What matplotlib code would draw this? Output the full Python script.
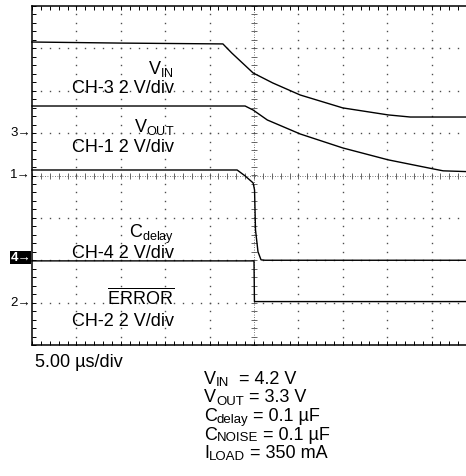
import matplotlib
matplotlib.use('Agg')
import matplotlib.pyplot as plt
import numpy as np
from matplotlib.ticker import MultipleLocator

plt.rcParams['font.family'] = ['Liberation Sans', 'DejaVu Sans']
plt.rcParams['mathtext.fontset'] = 'custom'
plt.rcParams['mathtext.rm'] = 'Liberation Sans'
plt.rcParams['mathtext.it'] = 'Liberation Sans:italic'

# scope settings
TIME_PER_DIV = 5.0   # µs/div
VOLT_PER_DIV = 2.0   # V/div

# traces: time (µs), voltage (V)
vin_t = [0, 9.9, 21.5, 22.5, 24.9, 27.1, 30.2, 35.0, 40.1, 42.6, 45.0, 50.0]
vin_v = [4.30, 4.25, 4.21, 3.78, 2.84, 2.37, 1.80, 1.19, 0.86, 0.76, 0.76, 0.76]

vout_t = [0, 24.0, 24.9, 26.5, 30.2, 35.0, 40.1, 45.2, 46.3, 50.0]
vout_v = [3.28, 3.28, 3.09, 2.62, 1.96, 1.30, 0.74, 0.31, 0.22, 0.17]

cdelay_t = [0, 23.1, 24.0, 24.9, 25.06, 25.17, 25.45, 25.79, 26.24, 50.0]
cdelay_v = [4.26, 4.26, 3.98, 3.65, 3.32, 1.43, 0.40, 0.02, 0.0, 0.0]

error_t = [0, 25.0, 25.05, 50.0]
error_v = [1.97, 1.97, 0.05, 0.05]

# channel ground-reference markers (divisions from screen centre)
ch_names = ['3', '1', '4', '2']
ch_offsets = [1.0, 0.0, -2.0, -3.0]

# test conditions: (symbol, subscript, rest)
cond_sym = ['V', 'V', 'C', 'C', 'I']
cond_sub = ['IN', 'OUT', 'delay', 'NOISE', 'LOAD']
cond_rest = ['  = 4.2 V', ' = 3.3 V', ' = 0.1 \u00b5F', ' = 0.1 \u00b5F',
             ' = 350 mA']

W, H = 466, 476
fig = plt.figure(figsize=(W / 100, H / 100), dpi=100)
ax = fig.add_axes([32 / W, (H - 345) / H, 444 / W, 339 / H])
ax.set_xlim(0, 10)
ax.set_ylim(-4, 4)

# grid (dotted, dots every minor division)
xminor = np.arange(0, 10.001, 0.2)
yminor = np.arange(-4, 4.001, 0.2)
for xv in range(1, 10):
    if xv == 5:
        continue
    ax.plot(np.full_like(yminor, xv), yminor, ls='none', marker='s', ms=1.0,
            mew=0, color='0.3', zorder=1)
for yv in range(-3, 4):
    if yv == 0:
        continue
    ax.plot(xminor, np.full_like(xminor, yv), ls='none', marker='s', ms=1.0,
            mew=0, color='0.3', zorder=1)
# centre cross-hairs with minor tick marks
ax.axvline(5, color='0.3', lw=0.6, ls=(0, (1, 2)), zorder=1)
ax.axhline(0, color='0.3', lw=0.6, ls=(0, (1, 2)), zorder=1)
ax.plot(np.full_like(yminor, 5), yminor, ls='none', marker='_', ms=4, mew=0.6,
        color='0.3', zorder=1)
ax.plot(xminor, np.zeros_like(xminor), ls='none', marker='|', ms=4, mew=0.6,
        color='0.3', zorder=1)

# frame ticks
ax.xaxis.set_major_locator(MultipleLocator(1))
ax.xaxis.set_minor_locator(MultipleLocator(0.2))
ax.yaxis.set_major_locator(MultipleLocator(1))
ax.yaxis.set_minor_locator(MultipleLocator(0.2))
ax.tick_params(which='both', direction='in', length=3, width=0.7, top=True,
               bottom=True, left=True, right=False, labelbottom=False,
               labelleft=False)
for s in ['top', 'bottom', 'left']:
    ax.spines[s].set_linewidth(1.1)
ax.spines['right'].set_visible(False)

# traces
def to_div(t, v, off):
    return np.asarray(t) / TIME_PER_DIV, np.asarray(v) / VOLT_PER_DIV + off

for (t, v, off) in [(vin_t, vin_v, ch_offsets[0]),
                    (vout_t, vout_v, ch_offsets[1]),
                    (cdelay_t, cdelay_v, ch_offsets[2]),
                    (error_t, error_v, ch_offsets[3])]:
    x, y = to_div(t, v, off)
    ax.plot(x, y, color='black', lw=1.0, zorder=3, clip_on=False)

# channel markers
for name, off in zip(ch_names, ch_offsets):
    if name == '4':
        ax.text(-0.02, off + 0.06, name + '\u2192', ha='right', va='center',
                fontsize=9.5, fontweight='bold', color='white', clip_on=False,
                bbox=dict(boxstyle='square,pad=0.02', fc='black', ec='none'))
    else:
        ax.text(-0.02, off, name + '\u2192', ha='right', va='center',
                fontsize=9.5, color='black', clip_on=False)

# trace labels
fs = 13
xr = (174 - 32) / 44.4
def py(y):
    return (175.6 - y) / 42.4

labels = [
    (r'V$_\mathregular{IN}$', 74),
    ('CH-3 2 V/div', 92.7),
    (r'V$_\mathregular{OUT}$', 132),
    ('CH-1 2 V/div', 152),
    (r'C$_\mathregular{delay}$', 238),
    ('CH-4 2 V/div', 258),
    (r'$\overline{\mathregular{ERROR}}$', 305),
    ('CH-2 2 V/div', 326),
]
for txt, ypix in labels:
    ax.text(xr, py(ypix), txt, ha='right', va='baseline', fontsize=fs,
            zorder=4)

# bottom annotations
fig.text(35 / W, 1 - 367 / H, '5.00 \u00b5s/div', ha='left', va='baseline',
         fontsize=fs)

rend = fig.canvas.get_renderer()
def sub_line(x_px, base_px, sym, sub, rest, drop):
    t1 = fig.text(x_px / W, 1 - base_px / H, sym, ha='left', va='baseline',
                  fontsize=fs)
    w1 = t1.get_window_extent(rend).width
    t2 = fig.text((x_px + w1) / W, 1 - (base_px + drop) / H, sub, ha='left',
                  va='baseline', fontsize=9.5)
    w2 = t2.get_window_extent(rend).width
    fig.text((x_px + w1 + w2) / W, 1 - base_px / H, rest, ha='left',
             va='baseline', fontsize=fs)

drops = [2.5, 2.5, 2.5, 1.5, 2.5]
for i in range(len(cond_sym)):
    sub_line(204, 384 + 18.5 * i, cond_sym[i], cond_sub[i], cond_rest[i],
             drops[i])

fig.savefig('out.png', dpi=100)
